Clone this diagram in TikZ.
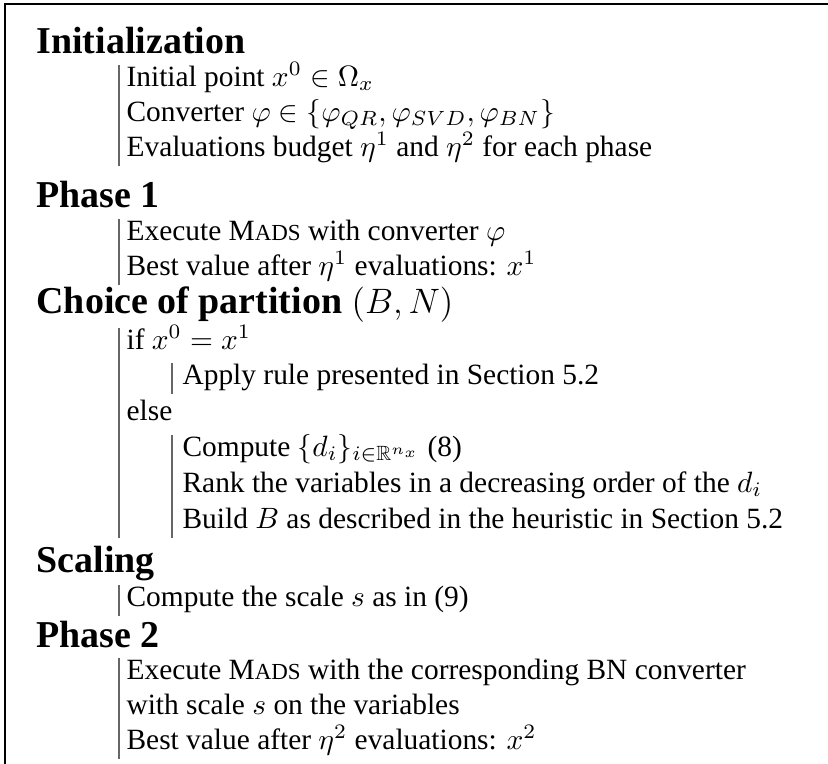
\documentclass[tikz,border=0pt]{standalone}
\usepackage[no-math]{fontspec}
\setmainfont{Liberation Serif}
\usepackage{amssymb}
\newcommand{\mads}{M{\fontsize{7.8}{9}\selectfont ADS}}

\tikzset{
	head/.style={anchor=base west, inner sep=0pt, font=\fontsize{12.9}{15}\selectfont\bfseries},
	txt/.style={anchor=base west, inner sep=0pt, font=\fontsize{10}{12}\selectfont},
	bar/.style={draw=black!60, line width=0.35pt},
}

\begin{document}
\begin{tikzpicture}[x=0.34pt, y=-0.34pt]
			%%%%% START %%%%%
			\useasboundingbox (0, 0) rectangle (828, 764);
			\draw[line width=0.7pt] (828, 4) -- (5, 4) -- (5, 764);
			
			\node[head] (init) at (36, 53) {Initialization};
			\node[txt] (i1) at (126, 86) {Initial point $x^0 \in \Omega_x$};
			\node[txt] (i2) at (126, 121) {Converter $\varphi \in \{\varphi_{QR}, \varphi_{SVD}, \varphi_{BN}\}$};
			\node[txt] (i3) at (126, 156) {Evaluations budget $\eta^1$ and $\eta^2$ for each phase};
			\draw[bar] ([shift={(-7,-21)}]i1.base west) -- ([shift={(-7,10)}]i3.base west);
			
			\node[head] (ph1) at (36, 207) {Phase 1};
			\node[txt] (p1) at (126, 240) {Execute \mads{} with converter $\varphi$};
			\node[txt] (p2) at (126, 275) {Best value after $\eta^1$ evaluations: $x^1$};
			\draw[bar] ([shift={(-7,-21)}]p1.base west) -- ([shift={(-7,10)}]p2.base west);
			
			\node[head] (choice) at (36, 313) {Choice of partition $(B, N)$};
			\node[txt] (c1) at (126, 349) {if $x^0 = x^1$};
			\node[txt] (c2) at (182, 384) {Apply rule presented in Section 5.2};
			\node[txt] (c3) at (126, 420) {else};
			\node[txt] (c4) at (182, 456) {Compute $\{d_i\}_{i\in\mathbb{R}^{n_x}}$ (8)};
			\node[txt] (c5) at (182, 492) {Rank the variables in a decreasing order of the $d_i$};
			\node[txt] (c6) at (182, 528) {Build $B$ as described in the heuristic in Section 5.2};
			\coordinate (cend) at (c1.base west |- c6.base);
			\draw[bar] ([shift={(-7,-21)}]c1.base west) -- ([shift={(-7,10)}]cend);
			\draw[bar] ([shift={(-10,-21)}]c2.base west) -- ([shift={(-10,10)}]c2.base west);
			\draw[bar] ([shift={(-10,-21)}]c4.base west) -- ([shift={(-10,10)}]c6.base west);
			
			\node[head] (scal) at (36, 572) {Scaling};
			\node[txt] (s1) at (126, 606) {Compute the scale $s$ as in (9)};
			\draw[bar] ([shift={(-7,-21)}]s1.base west) -- ([shift={(-7,10)}]s1.base west);
			
			\node[head] (ph2) at (36, 647) {Phase 2};
			\node[txt] (q1) at (126, 679) {Execute \mads{} with the corresponding BN converter};
			\node[txt] (q2) at (126, 714) {with scale $s$ on the variables};
			\node[txt] (q3) at (126, 749) {Best value after $\eta^2$ evaluations: $x^2$};
			\draw[bar] ([shift={(-7,-21)}]q1.base west) -- ([shift={(-7,10)}]q3.base west);
			%%%%% END %%%%%
\end{tikzpicture}
\end{document}
